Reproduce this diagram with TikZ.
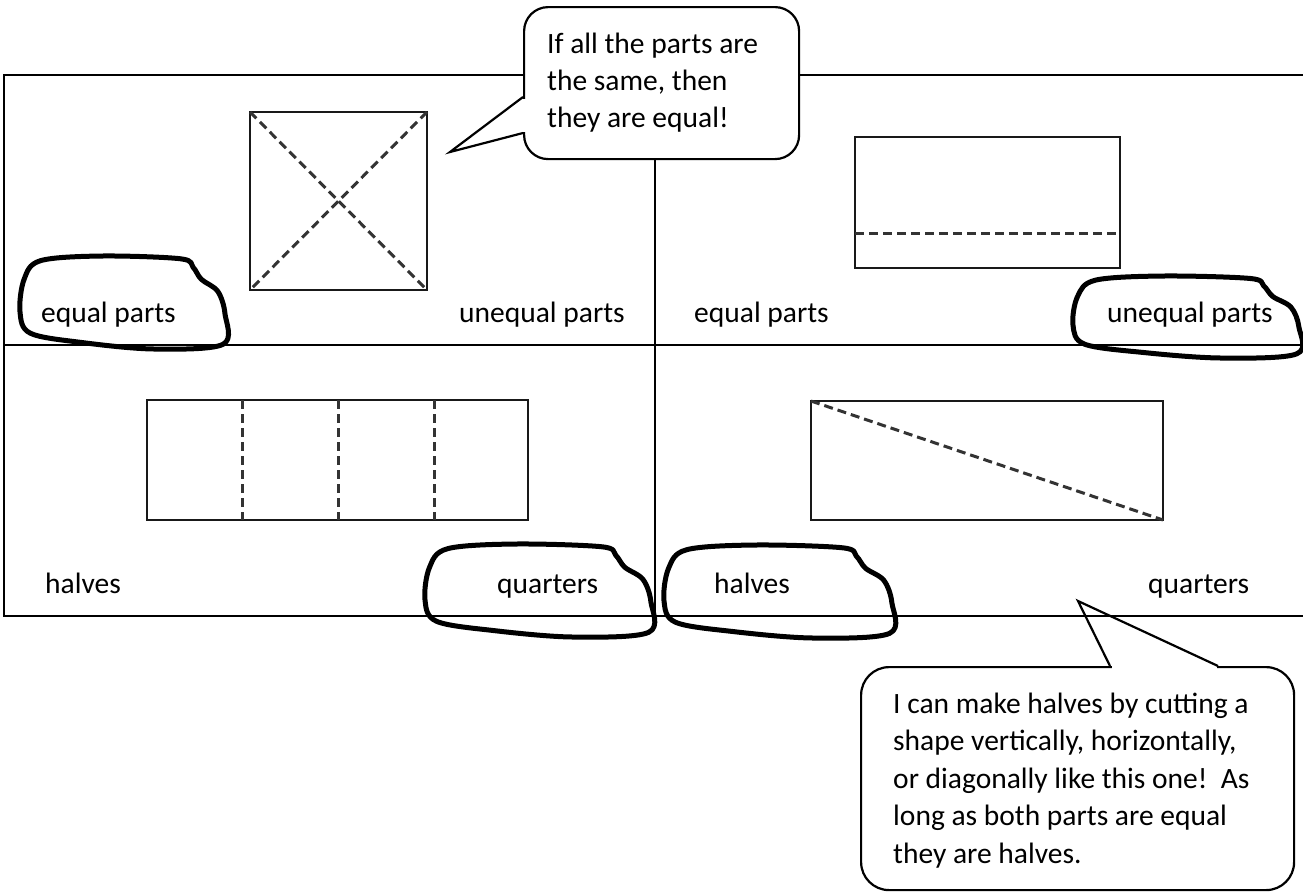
\documentclass[tikz,border=0pt]{standalone}
\usepackage{fontspec}
\setmainfont{Carlito}
\newcommand\handblob[4]{%
  \draw[blobline, shift={(#1,#2)}, xscale=#3, yscale=#4]
    plot[smooth cycle, tension=0.55] coordinates {
      (0.02,0.25) (0.10,0.05) (0.40,0.0) (0.78,0.03) (0.84,0.12)
      (0.88,0.25) (0.96,0.38) (0.995,0.62) (0.985,0.95) (0.65,1.0)
      (0.30,0.93) (0.05,0.83) (0.0,0.6)};}
\tikzset{
  tbl/.style={line width=1.5pt, black},
  shp/.style={line width=2pt, black!90},
  cut/.style={line width=3pt, black!80, dash pattern=on 9pt off 5pt},
  blobline/.style={line width=5pt, black, line join=round},
  lbl/.style={font=\fontsize{29.5}{37}\selectfont, inner sep=0pt, anchor=base west},
  callbox/.style={draw, line width=2.2pt, fill=white, anchor=north west, inner sep=0pt},
  tailline/.style={line width=2.2pt, line join=miter},
}
\begin{document}
\begin{tikzpicture}[x=1pt,y=-1pt]
\useasboundingbox (0,0) rectangle (1303,892);
\fill[white] (0,0) rectangle (1303,892);

% table grid
\coordinate (TL) at (4,75);  \coordinate (TR) at (1303,75);
\coordinate (ML) at (4,345); \coordinate (MR) at (1303,345);
\coordinate (BL) at (4,616); \coordinate (BR) at (1303,616);
\coordinate (VT) at (655,150); \coordinate (VB) at (655,616);
\draw[tbl] (TR) -- (TL) -- (BL) -- (BR);
\draw[tbl] (ML) -- (MR);
\draw[tbl] (VT) -- (VB);

% square with X
\draw[shp] (250,112) rectangle (427,290);
\draw[cut] (250,112) -- (427,290);
\draw[cut] (427,112) -- (250,290);

% top-right rectangle
\draw[shp] (855,137) rectangle (1120,268);
\draw[cut] (855,233) -- (1120,233);

% bottom-left rectangle
\draw[shp] (147,400) rectangle (528,520);
\draw[cut] (242,400) -- (242,520);
\draw[cut] (338,400) -- (338,520);
\draw[cut] (434,400) -- (434,520);

% bottom-right rectangle
\draw[shp] (811,401) rectangle (1163,520);
\draw[cut] (811,401) -- (1163,520);

% labels
\node[lbl] (l1) at (41,322) {equal parts};
\node[lbl] (l2) at (459,322) {unequal parts};
\node[lbl] (l3) at (694,322) {equal parts};
\node[lbl] (l4) at (1107,322) {unequal parts};
\node[lbl] (l5) at (45,593) {halves};
\node[lbl] (l6) at (497,593) {quarters};
\node[lbl] (l7) at (714,593) {halves};
\node[lbl] (l8) at (1148,593) {quarters};

% hand-drawn circles
\handblob{20}{256}{206}{93}
\handblob{1073}{276}{227}{82}
\handblob{425}{544}{227}{93}
\handblob{664}{545}{229}{93}

% callout 1
\node[callbox, minimum width=275pt, minimum height=152pt, rounded corners=24pt] (c1) at (523,6) {};
\coordinate (c1a) at (523,97); \coordinate (c1tip) at (450,152); \coordinate (c1b) at (523,133);
\fill[white] (520.5,98.5) rectangle (525.5,131.5);
\draw[tailline] (c1a) -- (c1tip) -- (c1b);
\node[lbl] (t1a) at (547,53) {If all the parts are};
\node[lbl] (t1b) at (547,90) {the same, then};
\node[lbl] (t1c) at (547,127) {they are equal!};

% callout 2
\node[callbox, minimum width=433pt, minimum height=223pt, rounded corners=28pt] (c2) at (860,666) {};
\coordinate (c2a) at (1110,666); \coordinate (c2tip) at (1078,601); \coordinate (c2b) at (1218,666);
\fill[white] (1111.5,663.5) rectangle (1216.5,668.5);
\draw[tailline] (c2a) -- (c2tip) -- (c2b);
\node[lbl] (t2a) at (893,713) {I can make halves by cutting a};
\node[lbl] (t2b) at (893,750.5) {shape vertically, horizontally,};
\node[lbl] (t2c) at (893,788) {or diagonally like this one!\ \ As};
\node[lbl] (t2d) at (893,825.5) {long as both parts are equal};
\node[lbl] (t2e) at (893,863) {they are halves.};
\end{tikzpicture}
\end{document}
